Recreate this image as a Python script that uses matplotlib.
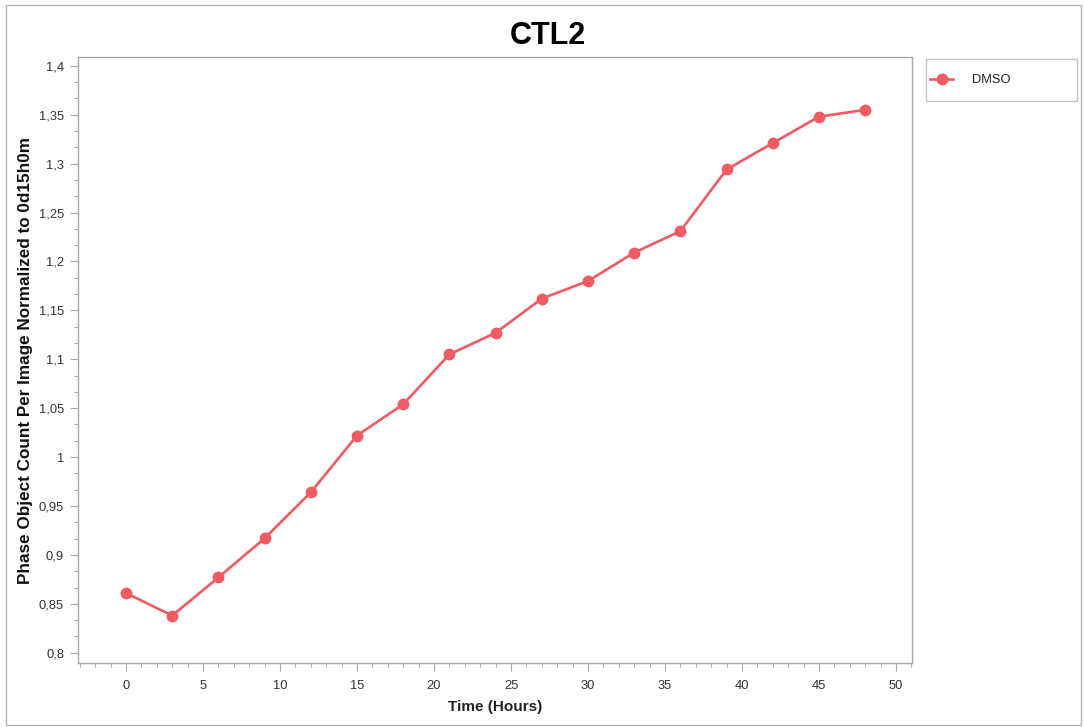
import matplotlib
matplotlib.use("Agg")
import matplotlib.pyplot as plt
from matplotlib.ticker import MultipleLocator, FixedLocator, FuncFormatter
from matplotlib.patches import Rectangle

plt.rcParams['font.family'] = ['Liberation Sans', 'DejaVu Sans']

# Time points (hours) and normalized phase object counts
hours = [0, 3, 6, 9, 12, 15, 18, 21, 24, 27, 30, 33, 36, 39, 42, 45, 48]
dmso = [0.861, 0.838, 0.877, 0.917, 0.964, 1.022, 1.054, 1.105, 1.127,
        1.162, 1.180, 1.209, 1.231, 1.294, 1.321, 1.348, 1.355]

x_ticks = [0, 5, 10, 15, 20, 25, 30, 35, 40, 45, 50]
y_ticks = [0.8, 0.85, 0.9, 0.95, 1.0, 1.05, 1.1, 1.15, 1.2, 1.25, 1.3, 1.35, 1.4]

W, H = 1084, 727
fig = plt.figure(figsize=(W / 100, H / 100), dpi=100)
ax = fig.add_axes([78 / W, 1 - 663 / H, (912 - 78) / W, (663 - 57) / H])

line_color = '#ef5b63'
line, = ax.plot(hours, dmso, color=line_color, lw=1.9, marker='o', ms=8.5,
                markeredgewidth=0, label='DMSO', zorder=3)

ax.set_xlim(-3.12, 51.04)
ax.set_ylim(0.7895, 1.409)

spine_col = '#a8a8a8'
for s in ax.spines.values():
    s.set_color(spine_col)
    s.set_linewidth(1.0)

ax.xaxis.set_major_locator(FixedLocator(x_ticks))
ax.xaxis.set_minor_locator(MultipleLocator(1))
ax.yaxis.set_major_locator(FixedLocator(y_ticks))
ax.yaxis.set_minor_locator(MultipleLocator(0.05 / 3))

def comma_fmt(v, pos):
    s = f"{v:.2f}".rstrip('0').rstrip('.')
    return s.replace('.', ',')

ax.yaxis.set_major_formatter(FuncFormatter(comma_fmt))
ax.tick_params(axis='both', which='major', length=6, width=0.8, color=spine_col,
               labelsize=9.3, labelcolor='#333333', direction='out')
ax.tick_params(axis='both', which='minor', length=3, width=0.7, color=spine_col,
               direction='out')
ax.tick_params(axis='x', which='major', pad=6)
ax.tick_params(axis='y', which='major', pad=4)

ax.set_xlabel('Time (Hours)', fontsize=11, fontweight='bold', color='#222222', labelpad=6)
ax.set_ylabel('Phase Object Count Per Image Normalized to 0d15h0m', fontsize=12.3,
              fontweight='bold', color='#111111', labelpad=4)

fig.text(548 / W, 1 - 36 / H, 'CTL2', ha='center', va='center', fontsize=22,
         fontweight='bold', color='#000000')

# Legend box to the right of the plot
fig.patches.append(Rectangle((926 / W, 1 - 101 / H), (1077 - 926) / W, (101 - 59) / H,
                             transform=fig.transFigure, fill=False,
                             edgecolor='#c4c4c4', linewidth=1.0, zorder=-1))
leg = ax.legend(handles=[line], loc='center left', bbox_to_anchor=(927 / W, 1 - 80 / H),
                bbox_transform=fig.transFigure, frameon=False,
                fontsize=9.3, handlelength=1.85, handletextpad=1.45,
                borderpad=0.0, borderaxespad=0.2)
for t in leg.get_texts():
    t.set_color('#222222')

# Thin outer frame around the whole figure
fig.patches.append(Rectangle((6 / W, 2 / H), (W - 9) / W, (H - 7) / H,
                             transform=fig.transFigure, fill=False,
                             edgecolor='#b5b5b5', linewidth=1.0, zorder=-1))

fig.savefig('out.png', dpi=100)
